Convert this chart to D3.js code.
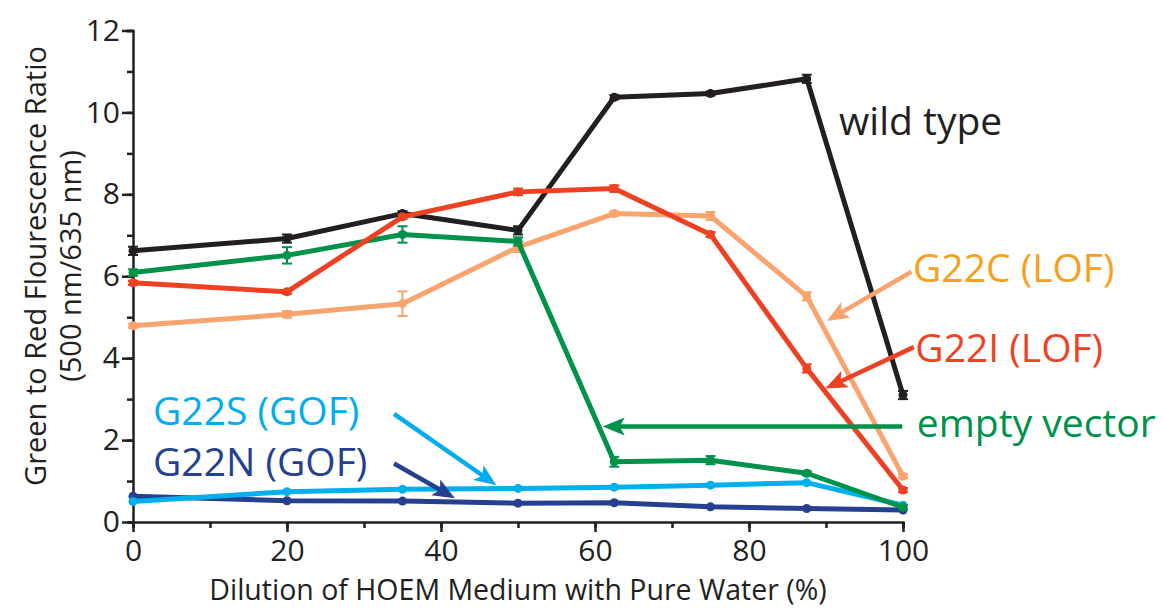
<!DOCTYPE html>
<head>
    <style>
    body { margin: 0; background: #fff; }
    text { font-family: "Open Sans", sans-serif; }
    .axis path, .axis line { stroke: #231f20; stroke-width: 2.5px; }
    .axis text { fill: #231f20; font-size: 30px; font-family: "Open Sans", sans-serif; }
    .series { fill: none; stroke-width: 5px; stroke-linejoin: round; }
    </style>
    <script src="https://d3js.org/d3.v7.min.js"></script>
</head>
<body>
    <svg width="1163" height="611"></svg>
    <script>

    // dilution (%) for every series
    var dilution = [0, 20, 35, 50, 62.5, 75, 87.5, 100];

    var wildType   = [6.62, 6.92, 7.53, 7.12, 10.37, 10.46, 10.82, 3.10];
    var wildTypeEr = [0.10, 0.10, 0.06, 0.10, 0.05, 0.05, 0.10, 0.10];
    var g22i       = [5.84, 5.62, 7.45, 8.06, 8.14, 7.02, 3.75, 0.78];
    var g22iEr     = [0.05, 0.05, 0.05, 0.08, 0.08, 0.06, 0.10, 0.05];
    var g22c       = [4.79, 5.07, 5.33, 6.71, 7.53, 7.47, 5.51, 1.12];
    var g22cEr     = [0.05, 0.08, 0.30, 0.12, 0.05, 0.10, 0.10, 0.05];
    var emptyVec   = [6.09, 6.51, 7.02, 6.85, 1.47, 1.51, 1.19, 0.36];
    var emptyVecEr = [0.08, 0.20, 0.20, 0.10, 0.12, 0.10, 0.05, 0.05];
    var g22s       = [0.50, 0.74, 0.80, 0.82, 0.85, 0.90, 0.96, 0.41];
    var g22n       = [0.63, 0.52, 0.51, 0.46, 0.47, 0.37, 0.33, 0.29];

    var xTicks = [0, 20, 40, 60, 80, 100];
    var yTicks = [0, 2, 4, 6, 8, 10, 12];

    // label text, anchor (data units) and arrow (from -> to, data units)
    var labels = [
      {text: "wild type",       color: "#231f20", x: 91.7,  y: 9.78, arrow: null},
      {text: "G22C (LOF)",      color: "#f8a01e", x: 101.3, y: 6.20, arrow: [101.1, 6.11, 90.1, 4.91], arrowColor: "#f9a46e"},
      {text: "G22I (LOF)",      color: "#ee4123", x: 101.6, y: 4.25, arrow: [101.4, 4.27, 89.9, 3.26], arrowColor: "#ee4123"},
      {text: "empty vector",    color: "#00924a", x: 101.8, y: 2.42, arrow: [99.9, 2.33, 61.0, 2.33], arrowColor: "#00924a"},
      {text: "G22S (GOF)",      color: "#00aeef", x: 2.6,   y: 2.69, arrow: [33.9, 2.64, 47.2, 0.90], arrowColor: "#00aeef"},
      {text: "G22N (GOF)",      color: "#25408f", x: 2.6,   y: 1.46, arrow: [33.9, 1.43, 41.8, 0.58], arrowColor: "#25408f"}
    ];

    var series = [
      {name: "G22N",  values: g22n,     err: null,       color: "#25408f"},
      {name: "G22S",  values: g22s,     err: null,       color: "#00b0ec"},
      {name: "wild",  values: wildType, err: wildTypeEr, color: "#231f20"},
      {name: "G22C",  values: g22c,     err: g22cEr,     color: "#f9a46e"},
      {name: "empty", values: emptyVec, err: emptyVecEr, color: "#00924a"},
      {name: "G22I",  values: g22i,     err: g22iEr,     color: "#ee4123"}
    ];

    var svg = d3.select("svg");

    var x = d3.scaleLinear().domain([0, 100]).range([133, 903]);
    var y = d3.scaleLinear().domain([0, 12]).range([522, 30.5]);

    // minor ticks first, then labelled ticks
    svg.append("g")
        .attr("class", "axis")
        .attr("transform", "translate(0," + y(0) + ")")
        .call(d3.axisBottom(x).tickValues(d3.range(0, 101, 10)).tickSize(6).tickFormat(""));
    svg.append("g")
        .attr("class", "axis")
        .attr("transform", "translate(0," + y(0) + ")")
        .call(d3.axisBottom(x).tickValues(xTicks).tickSize(10).tickPadding(8).tickFormat(d3.format("d")))
        .call(function(g) { g.select(".domain").remove(); });

    svg.append("g")
        .attr("class", "axis")
        .attr("transform", "translate(" + x(0) + ",0)")
        .call(d3.axisLeft(y).tickValues(d3.range(0, 13, 1)).tickSize(6).tickFormat(""));
    svg.append("g")
        .attr("class", "axis")
        .attr("transform", "translate(" + x(0) + ",0)")
        .call(d3.axisLeft(y).tickValues(yTicks).tickSize(11).tickPadding(2).tickFormat(d3.format("d")))
        .call(function(g) { g.select(".domain").remove(); });

    // axis titles
    svg.append("text")
        .attr("x", 518).attr("y", 600)
        .attr("text-anchor", "middle")
        .attr("font-size", 28.5)
        .attr("fill", "#231f20")
        .text("Dilution of HOEM Medium with Pure Water (%)");

    var yTitle = svg.append("text")
        .attr("transform", "translate(46,266) rotate(-90)")
        .attr("text-anchor", "middle")
        .attr("font-size", 29)
        .attr("fill", "#231f20");
    yTitle.append("tspan").attr("x", 0).attr("dy", 0).text("Green to Red Flourescence Ratio");
    yTitle.append("tspan").attr("x", 0).attr("dy", 35).text("(500 nm/635 nm)");

    var line = d3.line()
        .x(function(d) { return x(d[0]); })
        .y(function(d) { return y(d[1]); });

    series.forEach(function(s) {
      var pts = dilution.map(function(d, i) { return [d, s.values[i], s.err ? s.err[i] : 0]; });
      var g = svg.append("g");

      g.append("path")
          .datum(pts)
          .attr("class", "series")
          .attr("stroke", s.color)
          .attr("d", line);

      if (s.err) {
        var eb = g.selectAll(".eb").data(pts).enter().append("g")
            .attr("stroke", s.color)
            .attr("stroke-width", 2);
        eb.append("line")
            .attr("x1", function(d) { return x(d[0]); })
            .attr("x2", function(d) { return x(d[0]); })
            .attr("y1", function(d) { return y(d[1] - d[2]); })
            .attr("y2", function(d) { return y(d[1] + d[2]); });
        eb.append("line")
            .attr("x1", function(d) { return x(d[0]) - 5; })
            .attr("x2", function(d) { return x(d[0]) + 5; })
            .attr("y1", function(d) { return y(d[1] - d[2]); })
            .attr("y2", function(d) { return y(d[1] - d[2]); });
        eb.append("line")
            .attr("x1", function(d) { return x(d[0]) - 5; })
            .attr("x2", function(d) { return x(d[0]) + 5; })
            .attr("y1", function(d) { return y(d[1] + d[2]); })
            .attr("y2", function(d) { return y(d[1] + d[2]); });
      }

      g.selectAll("circle").data(pts).enter().append("circle")
          .attr("cx", function(d) { return x(d[0]); })
          .attr("cy", function(d) { return y(d[1]); })
          .attr("r", 4.5)
          .attr("fill", s.color);
    });

    // arrows and labels
    labels.forEach(function(l) {
      if (l.arrow) {
        var x1 = x(l.arrow[0]), y1 = y(l.arrow[1]), x2 = x(l.arrow[2]), y2 = y(l.arrow[3]);
        var ang = Math.atan2(y2 - y1, x2 - x1), len = 22, w = 9;
        var bx = x2 - len * Math.cos(ang), by = y2 - len * Math.sin(ang);
        svg.append("line")
            .attr("x1", x1).attr("y1", y1).attr("x2", bx + 6 * Math.cos(ang)).attr("y2", by + 6 * Math.sin(ang))
            .attr("stroke", l.arrowColor).attr("stroke-width", 4.5);
        var head = [
          [x2, y2],
          [bx - w * Math.sin(ang), by + w * Math.cos(ang)],
          [bx + 5 * Math.cos(ang), by + 5 * Math.sin(ang)],
          [bx + w * Math.sin(ang), by - w * Math.cos(ang)]
        ];
        svg.append("path")
            .attr("d", "M" + head.join("L") + "Z")
            .attr("fill", l.arrowColor);
      }
      svg.append("text")
          .attr("x", x(l.x)).attr("y", y(l.y))
          .attr("dy", "0.35em")
          .attr("font-size", 39)
          .attr("fill", l.color)
          .text(l.text);
    });

    </script>
</body>
